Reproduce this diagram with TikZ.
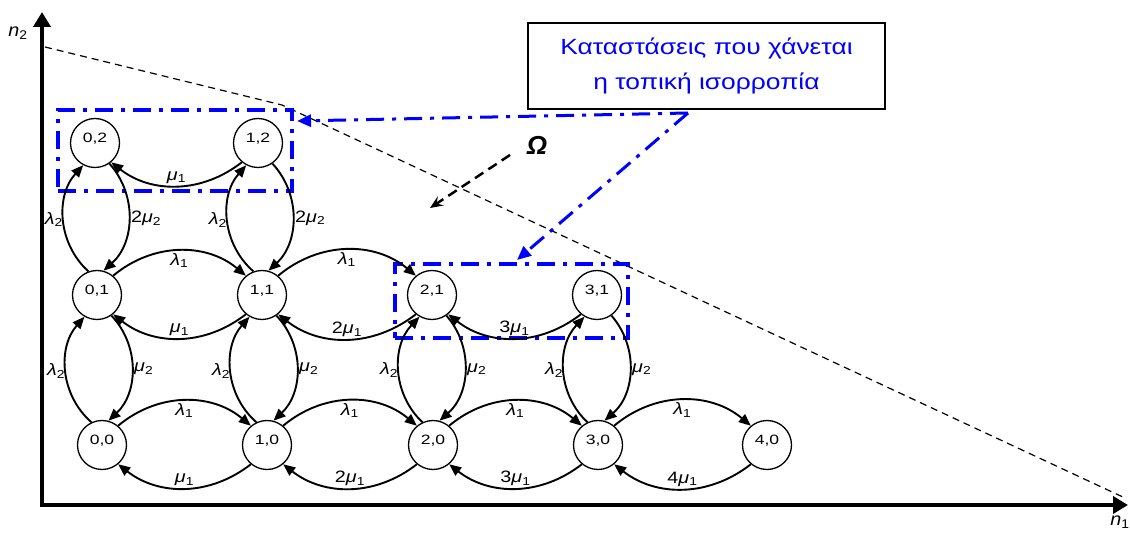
\documentclass[tikz,border=0pt]{standalone}
\usepackage{fontspec}
\usepackage{graphicx}
\setmainfont{Liberation Sans}
\usetikzlibrary{arrows.meta}
\newcommand{\gl}[1]{\scalebox{1.2}[1]{\textit{λ}\textsubscript{#1}}}
\newcommand{\gm}[1]{\scalebox{1.2}[1]{\textit{μ}\textsubscript{#1}}}
\newcommand{\gn}[2]{\scalebox{1.2}[1]{#1\textit{μ}\textsubscript{#2}}}
\newcommand{\sx}[1]{\scalebox{1.3}[1]{#1}}
\begin{document}
\begin{tikzpicture}[x=1pt,y=1pt,
 state/.style={circle,draw,line width=1.3pt,minimum size=49pt,inner sep=0pt,text height=9.5pt,text depth=10.5pt,font=\fontsize{13.5}{15}\selectfont},
 tr/.style={line width=1.9pt,-{Triangle[length=12pt,width=10pt]}},
 lab/.style={font=\fontsize{16.5}{19}\selectfont,inner sep=1.5pt},
 bluebox/.style={draw=blue,line width=3.5pt,dash pattern=on 18pt off 8pt on 4pt off 8pt},
 bluearrow/.style={blue,line width=3pt,dash pattern=on 18pt off 8pt on 4pt off 8pt,-{Triangle[length=14pt,width=12pt]}},
 axis/.style={line width=4.5pt,line join=miter},
]
\useasboundingbox (0,0) rectangle (1130,533);

% axes
\draw[axis,{Triangle[length=15pt,width=17pt]}-{Triangle[length=15pt,width=17pt]}] (42,521) -- (42,28) -- (1128,28);
\node[font=\fontsize{18}{20}\selectfont] (ax2) at (18,500) {\scalebox{1.1}[1]{\textit{n}\textsubscript{2}}};
\node[font=\fontsize{18}{20}\selectfont] (ax1) at (1120,11) {\scalebox{1.1}[1]{\textit{n}\textsubscript{1}}};

% boundary
\draw[line width=1.2pt,dash pattern=on 7pt off 5pt] (45,486) -- (282,428) -- (1125,35);

% blue groups
\node[bluebox,minimum width=234pt,minimum height=81pt] (g1) at (175,382.5) {};
\node[bluebox,minimum width=233pt,minimum height=74pt] (g2) at (511.5,232) {};

% states
\node[state] (n02) at (95,390) {\sx{0,2}};
\node[state] (n12) at (258,390) {\sx{1,2}};
\node[state] (n01) at (97,238) {\sx{0,1}};
\node[state] (n11) at (262,238) {\sx{1,1}};
\node[state] (n21) at (432,238) {\sx{2,1}};
\node[state] (n31) at (597,238) {\sx{3,1}};
\node[state] (n00) at (102,88) {\sx{0,0}};
\node[state] (n10) at (267,88) {\sx{1,0}};
\node[state] (n20) at (433,88) {\sx{2,0}};
\node[state] (n30) at (598,88) {\sx{3,0}};
\node[state] (n40) at (767,88) {\sx{4,0}};

% row 0
\draw[tr] (n00.50) to[bend left=40] node[lab,below]{\gl{1}} (n10.130);
\draw[tr] (n10.230) to[bend left=38] node[lab,above]{\gm{1}} (n00.-50);
\draw[tr] (n10.50) to[bend left=40] node[lab,below]{\gl{1}} (n20.130);
\draw[tr] (n20.230) to[bend left=38] node[lab,above]{\gn{2}{1}} (n10.-50);
\draw[tr] (n20.50) to[bend left=40] node[lab,below]{\gl{1}} (n30.130);
\draw[tr] (n30.230) to[bend left=38] node[lab,above]{\gn{3}{1}} (n20.-50);
\draw[tr] (n30.50) to[bend left=40] node[lab,below]{\gl{1}} (n40.130);
\draw[tr] (n40.230) to[bend left=38] node[lab,above]{\gn{4}{1}} (n30.-50);
% row 1
\draw[tr] (n01.50) to[bend left=40] node[lab,below]{\gl{1}} (n11.130);
\draw[tr] (n11.230) to[bend left=38] node[lab,above]{\gm{1}} (n01.-50);
\draw[tr] (n11.50) to[bend left=40] node[lab,below]{\gl{1}} (n21.130);
\draw[tr] (n21.230) to[bend left=38] node[lab,above]{\gn{2}{1}} (n11.-50);
\draw[tr] (n31.230) to[bend left=38] node[lab,above]{\gn{3}{1}} (n21.-50);
% row 2
\draw[tr] (n12.230) to[bend left=38] node[lab,above]{\gm{1}} (n02.-50);

% verticals
\draw[tr] (n00.115) to[bend left=45] node[lab,left,inner sep=0pt]{\gl{2}} (n01.240);
\draw[tr] (n01.-55) to[bend left=45] node[lab,right]{\gm{2}} (n00.75);
\draw[tr] (n01.110) to[bend left=45] node[lab,left,inner sep=0pt]{\gl{2}} (n02.242);
\draw[tr] (n02.-55) to[bend left=45] node[lab,right]{\gn{2}{2}} (n01.75);
\draw[tr] (n10.115) to[bend left=45] node[lab,left,inner sep=0pt]{\gl{2}} (n11.240);
\draw[tr] (n11.-55) to[bend left=45] node[lab,right]{\gm{2}} (n10.75);
\draw[tr] (n11.110) to[bend left=45] node[lab,left,inner sep=0pt]{\gl{2}} (n12.242);
\draw[tr] (n12.-55) to[bend left=45] node[lab,right]{\gn{2}{2}} (n11.75);
\draw[tr] (n20.115) to[bend left=45] node[lab,left,inner sep=0pt]{\gl{2}} (n21.240);
\draw[tr] (n21.-55) to[bend left=45] node[lab,right]{\gm{2}} (n20.75);
\draw[tr] (n30.115) to[bend left=45] node[lab,left,inner sep=0pt]{\gl{2}} (n31.240);
\draw[tr] (n31.-55) to[bend left=45] node[lab,right]{\gm{2}} (n30.75);

% callout
\node[draw,line width=1.6pt,minimum width=357pt,minimum height=86pt,text=blue,align=center,
      font=\fontsize{22}{35}\selectfont] (call) at (706.5,467)
      {\scalebox{1.2}[1]{Καταστάσεις που χάνεται}\\\scalebox{1.2}[1]{η τοπική ισορροπία}};
\coordinate (cs) at (688,420);
\coordinate (e1) at (297,412);
\coordinate (e2) at (517,273);
\draw[bluearrow] (cs) -- (e1);
\draw[bluearrow] (cs) -- (e2);

% Omega
\node[font=\fontsize{26}{28}\selectfont\bfseries\itshape] (om) at (537,388) {Ω};
\coordinate (os) at (510,378);
\coordinate (oe) at (430,325);
\draw[line width=2.5pt,dash pattern=on 10pt off 6pt,-{Stealth[length=13pt,width=11pt,inset=5pt]}] (os) -- (oe);
\end{tikzpicture}
\end{document}
